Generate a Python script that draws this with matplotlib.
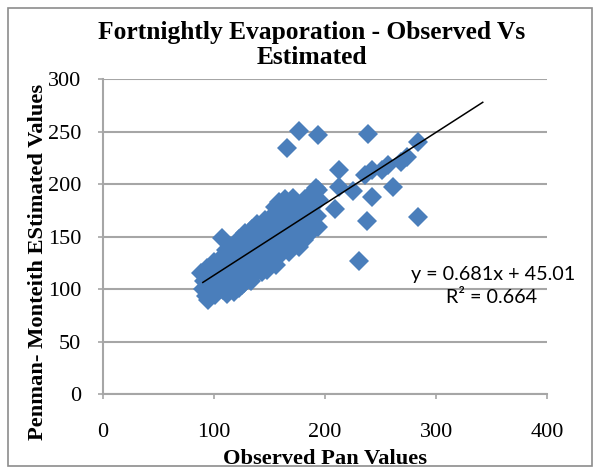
import numpy as np
import matplotlib
matplotlib.use("Agg")
import matplotlib.pyplot as plt
from matplotlib.patches import Rectangle

#
## Data (observed pan vs estimated)
#
obs = [88, 90, 91, 93, 94, 95, 96, 97, 99, 100, 101, 103, 104, 106, 107, 108,
       109, 110, 111, 112, 113, 115, 116, 117, 118, 118, 119, 121, 122, 123,
       123, 124, 125, 126, 127, 127, 128, 129, 130, 131, 132, 133, 134, 135,
       135, 136, 137, 138, 139, 140, 141, 142, 143, 143, 144, 145, 146, 147,
       148, 149, 150, 151, 152, 153, 154, 155, 156, 157, 158, 159, 160, 161,
       162, 163, 164, 165, 166, 167, 168, 169, 170, 171, 172, 173, 174, 175,
       176, 177, 178, 179, 180, 181, 182, 184, 185, 186, 188, 189, 190, 192,
       193, 194, 195,
       166, 177, 194, 239, 284, 213, 209, 194, 225, 213, 236, 242, 251, 257,
       268, 274, 261, 242, 238, 284, 231, 180]
est = [115, 100, 108, 93, 120, 90, 104, 97, 112, 126, 94, 118, 105, 130, 149, 99,
       113, 123, 137, 95, 108, 130, 117, 102, 142, 97, 124, 110, 135, 148,
       101, 118, 104, 128, 141, 106, 153, 113, 122, 134, 146, 108, 157, 127,
       112, 139, 117, 150, 162, 130, 121, 144, 155, 116, 136, 125, 166, 148,
       118, 139, 158, 129, 170, 150, 140, 178, 123, 162, 145, 183, 133, 154,
       172, 141, 186, 160, 148, 177, 135, 166, 155, 187, 145, 172, 160, 182,
       150, 140, 168, 177, 157, 147, 186, 165, 175, 152, 182, 192, 160, 196,
       170, 159, 185,
       234, 251, 247, 248, 240, 213, 176, 194, 193, 197, 209, 213, 213, 218,
       221, 226, 197, 188, 165, 169, 127, 150]

slope = 0.681
intercept = 45.01
r2 = 0.664
trend_x = [90, 342]

fig = plt.figure(figsize=(5.98, 4.71), dpi=100)
ax = fig.add_axes([0.172, 0.1635, 0.743, 0.6685])

# outer frame round the whole chart
fig.patches.append(Rectangle((8 / 598, 5 / 471), 584 / 598, 458 / 471,
                             transform=fig.transFigure, fill=False,
                             edgecolor="#8c8c8c", linewidth=1.2))

ax.plot(obs, est, linestyle="none", marker="D", markersize=9.8,
        color="#4a7ebb", markeredgewidth=0)

tx = np.array(trend_x)
ax.plot(tx, slope * tx + intercept, color="black", linewidth=1.1)

ax.set_xlim(0, 400)
ax.set_ylim(0, 300)
ax.set_xticks([0, 100, 200, 300, 400])
ax.set_yticks([0, 50, 100, 150, 200, 250, 300])

serif = "Liberation Serif"
ax.grid(axis="y", color="#a6a6a6", linewidth=1.5)
ax.set_axisbelow(True)
for s in ["top", "right"]:
    ax.spines[s].set_visible(False)
for s in ["left", "bottom"]:
    ax.spines[s].set_color("#a6a6a6")
    ax.spines[s].set_linewidth(1.5)
ax.tick_params(colors="#a6a6a6", length=3.6, width=1.2)
ax.tick_params(axis="y", pad=12)
ax.tick_params(axis="x", pad=17)
for lab in ax.get_xticklabels() + ax.get_yticklabels():
    lab.set_fontfamily(serif)
    lab.set_fontsize(16)
    lab.set_color("black")

# title sits a little left of the plot centre, as in the original
ax.set_title("Fortnightly Evaporation - Observed Vs\nEstimated",
             fontfamily=serif, fontweight="bold", fontsize=18.4,
             linespacing=1.12, pad=11, x=0.47)
ax.set_xlabel("Observed Pan Values", fontfamily=serif, fontweight="bold",
              fontsize=16.2, labelpad=5)
ax.set_ylabel("Penman- Monteith EStimated Values", fontfamily=serif,
              fontweight="bold", fontsize=16.2, labelpad=0, y=0.42)

ax.text(1.063, 0.378, "y = %.3fx + %.2f" % (slope, intercept),
        transform=ax.transAxes, ha="right", va="center",
        fontfamily="Lato", fontsize=14.2)
ax.text(0.977, 0.305, "R\u00b2 = %.3f" % r2, transform=ax.transAxes,
        ha="right", va="center", fontfamily="Lato", fontsize=14.2)

fig.savefig("out.png", dpi=100)
